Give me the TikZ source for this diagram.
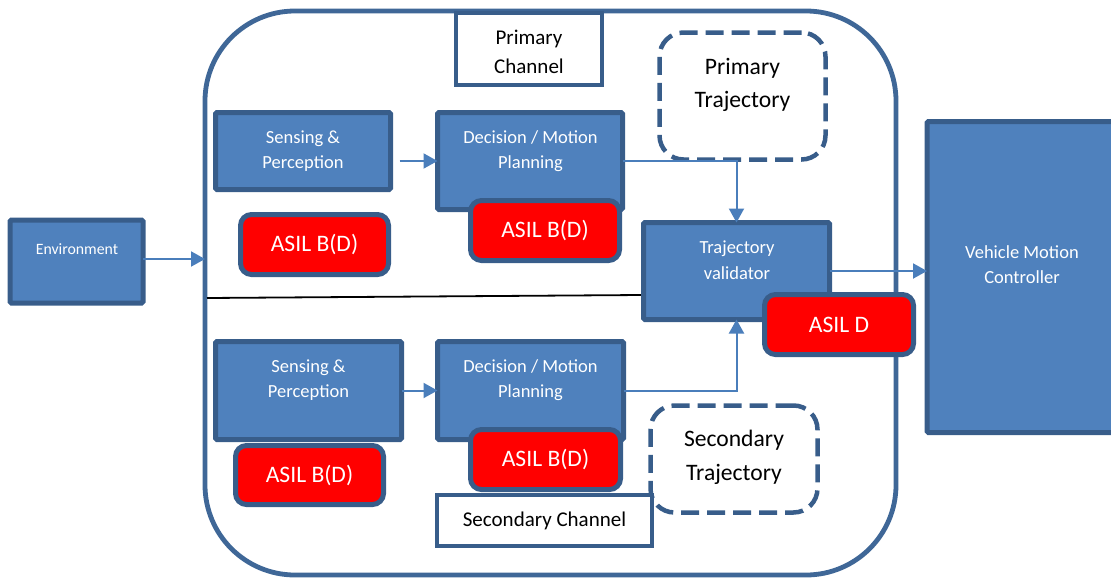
\documentclass[tikz,border=0pt]{standalone}
\usepackage{fontspec}
\setmainfont{Carlito}
\usetikzlibrary{arrows.meta,calc}
\definecolor{boxfill}{HTML}{4F81BD}
\definecolor{boxedge}{HTML}{385D8A}
\definecolor{frameblue}{HTML}{3F6797}
\definecolor{arrowblue}{HTML}{4A7EBB}
\definecolor{asilred}{HTML}{FF0000}
\begin{document}
\begin{tikzpicture}[x=1pt,y=-1pt,
  blk/.style={draw=boxedge,fill=boxfill,line width=5pt,rounded corners=1.5pt,inner sep=0pt,outer sep=0pt},
  asil/.style={draw=boxedge,fill=asilred,line width=5pt,rounded corners=11pt,inner sep=0pt,outer sep=0pt,
    text=white,font=\fontsize{23.6}{28}\selectfont},
  chanbox/.style={draw=boxedge,fill=white,line width=4pt,inner sep=0pt,outer sep=0pt,
    align=center,font=\fontsize{21}{29.4}\selectfont},
  trajbox/.style={draw=boxedge,line width=4.5pt,dash pattern=on 18pt off 8pt,rounded corners=24pt,
    inner sep=0pt,outer sep=0pt},
  wtxt/.style={text=white,align=center,font=\fontsize{18.5}{25.6}\selectfont,inner sep=0pt},
  btxt/.style={text=black,align=center,font=\fontsize{23.6}{33.5}\selectfont,inner sep=0pt},
  ctxt/.style={text=black,align=center,font=\fontsize{21}{29.4}\selectfont,inner sep=0pt},
  flow/.style={draw=arrowblue,line width=2pt,-{Triangle[length=14pt,width=15pt]}},
]
\useasboundingbox (0,0) rectangle (1111,579);

% outer frame holding both channels
\node[draw=frameblue,line width=4.8pt,rounded corners=90pt,minimum width=691pt,minimum height=564pt,
  inner sep=0pt,outer sep=0pt] (cont) at (550.5,293) {};

\node[chanbox,minimum width=146pt,minimum height=72pt] (pchan) at (529,49) {};
\node[ctxt] (pchant) at (529,52) {Primary\\Channel};

% divider between the two channels
\coordinate (divL) at (207,298);
\coordinate (divR) at (641,295);
\draw[black,line width=1.8pt] (divL) -- (divR);

% processing blocks
\node[blk,minimum width=133pt,minimum height=83pt] (env) at (76.5,261.5) {};
\node[wtxt,font=\fontsize{15.8}{20}\selectfont] (envt) at (77,249) {Environment};

\node[blk,minimum width=175pt,minimum height=77pt] (sp1) at (303,151) {};
\node[wtxt] (sp1t) at (303,151) {Sensing \&\\Perception};

\node[blk,minimum width=185pt,minimum height=97pt] (dm1) at (530,161) {};
\node[wtxt] (dm1t) at (530.5,151) {Decision / Motion\\Planning};

\node[blk,minimum width=186pt,minimum height=97pt] (tv) at (736.5,271) {};
\node[wtxt] (tvt) at (737,260) {Trajectory\\validator};

\node[blk,minimum width=193pt,minimum height=311pt] (vmc) at (1023.5,277) {};
\node[wtxt] (vmct) at (1022,264.5) {Vehicle Motion\\Controller};

\node[blk,minimum width=186pt,minimum height=98pt] (sp2) at (308.5,390.5) {};
\node[wtxt] (sp2t) at (308.5,380) {Sensing \&\\Perception};

\node[blk,minimum width=186pt,minimum height=98pt] (dm2) at (530.5,390.5) {};
\node[wtxt] (dm2t) at (530.5,380) {Decision / Motion\\Planning};

% primary trajectory
\node[trajbox,minimum width=166pt,minimum height=127pt] (ptraj) at (742.5,96) {};
\node[btxt] (ptrajt) at (742.5,85) {Primary\\Trajectory};

% data flow
\draw[flow] (env.east |- 0,259) -- (cont.west |- 0,259);
\draw[flow] ([xshift=9pt]sp1.east |- dm1.west) -- (dm1.west);
\draw[flow] (dm1.east) -| (tv.north);
\draw[flow] (tv.east) -- (tv.east -| vmc.west);
\draw[flow] (sp2.east) -- (dm2.west);
\draw[flow] (dm2.east) -| (tv.south);

% safety integrity levels
\node[asil,minimum width=148pt,minimum height=60pt] (asil1) at (314.5,244.5) {ASIL B(D)};
\node[asil,minimum width=149pt,minimum height=60pt] (asil2) at (545,230.5) {ASIL B(D)};
\node[asil,minimum width=149pt,minimum height=60pt] (asild) at (839,324.5) {ASIL D};
\node[asil,minimum width=148pt,minimum height=59pt] (asil3) at (309.5,475) {ASIL B(D)};
\node[asil,minimum width=150pt,minimum height=60pt] (asil4) at (545.5,459.5) {ASIL B(D)};

% secondary trajectory and channel label
\node[trajbox,minimum width=167pt,minimum height=107pt] (straj) at (734,459) {};
\node[btxt] (strajt) at (734,457.5) {Secondary\\Trajectory};
\node[chanbox,minimum width=215pt,minimum height=51pt] (schan) at (544.5,520.5) {Secondary Channel};
\end{tikzpicture}
\end{document}
